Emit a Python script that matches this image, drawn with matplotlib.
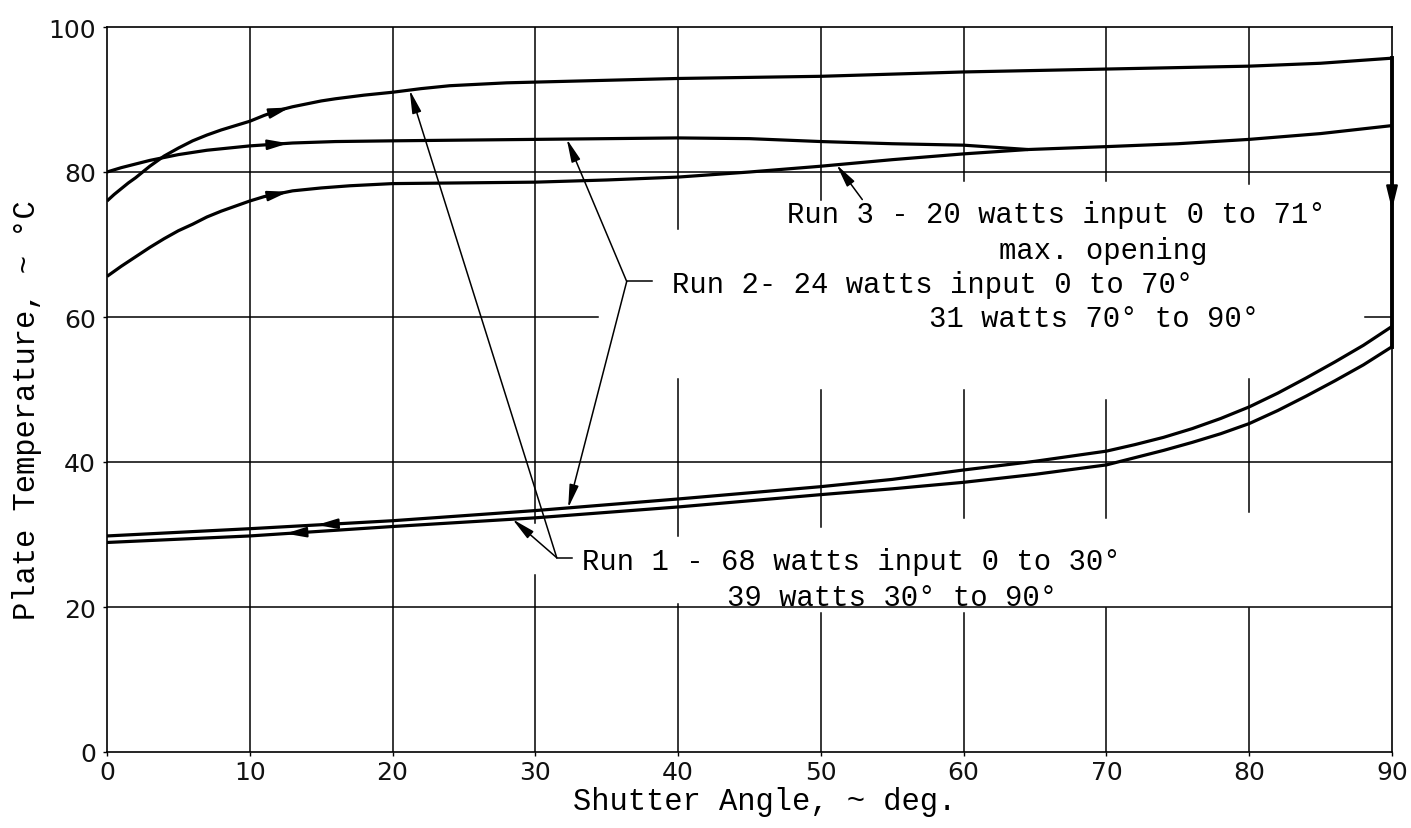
import numpy as np
import matplotlib
matplotlib.use("Agg")
import matplotlib.pyplot as plt

# ---------------- data ----------------
run1_heat_x = [0, 0.5, 1, 1.5, 2, 2.5, 3, 3.5, 4, 5, 6, 7, 8, 9, 10, 11, 12, 13, 14, 15, 16, 18, 20,
               22, 24, 26, 28, 30, 40, 50, 60, 70, 80, 85, 90]
run1_heat_y = [76.0, 76.9, 77.7, 78.5, 79.2, 80.0, 80.8, 81.5, 82.2, 83.3, 84.3, 85.1, 85.8, 86.4,
               87.0, 87.8, 88.5, 89.0, 89.4, 89.8, 90.1, 90.6, 91.0, 91.5, 91.9, 92.1, 92.3, 92.4,
               92.9, 93.2, 93.8, 94.2, 94.6, 95.0, 95.7]

run2_heat_x = [0, 1, 2, 3, 4, 5, 7, 10, 13, 16, 20, 30, 40, 45, 50, 55, 60, 64.5, 70, 75, 80, 85, 90]
run2_heat_y = [80.0, 80.6, 81.1, 81.6, 82.0, 82.4, 83.0, 83.6, 84.0, 84.2, 84.3, 84.5, 84.7, 84.6,
               84.2, 83.9, 83.7, 83.1, 83.5, 83.9, 84.5, 85.3, 86.4]

run3_heat_x = [0, 1, 2, 3, 4, 5, 6, 7, 8, 9, 10, 11, 12, 13, 15, 17, 20, 25, 30, 35, 40, 45, 50,
               55, 60, 64.5]
run3_heat_y = [65.6, 67.0, 68.3, 69.6, 70.8, 71.9, 72.8, 73.8, 74.6, 75.3, 76.0, 76.6, 77.0, 77.4,
               77.8, 78.1, 78.4, 78.5, 78.6, 78.9, 79.3, 80.0, 80.8, 81.7, 82.5, 83.1]

drop_x = [90, 90]
drop_y = [95.7, 55.9]

run2_cool_x = [90, 88, 86, 84, 82, 80, 78, 76, 74, 72, 70, 65, 60, 55, 50, 40, 30, 20, 10, 0]
run2_cool_y = [58.7, 56.1, 53.8, 51.6, 49.5, 47.6, 46.0, 44.6, 43.4, 42.4, 41.5, 40.1, 38.9, 37.6,
               36.6, 34.9, 33.3, 31.9, 30.8, 29.8]

run1_cool_x = [90, 88, 86, 84, 82, 80, 78, 76, 74, 72, 70, 65, 60, 55, 50, 40, 30, 20, 10, 0]
run1_cool_y = [55.9, 53.4, 51.2, 49.1, 47.1, 45.3, 43.9, 42.7, 41.6, 40.6, 39.6, 38.3, 37.2, 36.3,
               35.5, 33.8, 32.3, 31.1, 29.8, 28.9]

x_ticks = [0, 10, 20, 30, 40, 50, 60, 70, 80, 90]
y_ticks = [0, 20, 40, 60, 80, 100]

label_run3 = ["Run 3 - 20 watts input 0 to 71°", "max. opening"]
label_run2 = ["Run 2- 24 watts input 0 to 70°", "31 watts 70° to 90°"]
label_run1 = ["Run 1 - 68 watts input 0 to 30°", "39 watts 30° to 90°"]
x_label = "Shutter Angle, ~ deg."
y_label = "Plate Temperature, ~ °C"

# ---------------- layout ----------------
W, H = 1411, 829
fig = plt.figure(figsize=(W / 100, H / 100), dpi=100)
ax = fig.add_axes([107 / W, 1 - 753 / H, (1392 - 107) / W, (753 - 28) / H])
ax.set_xlim(0, 90)
ax.set_ylim(0, 100)

mono = "Liberation Mono"
INK = "black"

# grid segments (gaps where the original annotations sit)
vgrid = {10: [(0, 100)], 20: [(0, 100)],
         30: [(0, 24.4), (31.6, 100)],
         40: [(0, 20.4), (29.8, 51.4), (72.1, 100)],
         50: [(0, 19.2), (31.1, 50.0), (76.2, 100)],
         60: [(0, 19.2), (32.3, 50.0), (78.7, 100)],
         70: [(0, 19.9), (32.3, 48.6), (78.7, 100)],
         80: [(0, 19.9), (33.1, 51.4), (78.3, 100)]}
hgrid = {20: [(0, 90)], 40: [(0, 90)], 60: [(0, 34.4), (88.1, 90)], 80: [(0, 90)]}
for xv, segs in vgrid.items():
    for a, b in segs:
        ax.plot([xv, xv], [a, b], color=INK, lw=1.1, zorder=1)
for yv, segs in hgrid.items():
    for a, b in segs:
        ax.plot([a, b], [yv, yv], color=INK, lw=1.1, zorder=1)

# curves
CW = 2.3
for xs, ys in [(run1_heat_x, run1_heat_y), (run2_heat_x, run2_heat_y), (run3_heat_x, run3_heat_y),
               (run2_cool_x, run2_cool_y), (run1_cool_x, run1_cool_y)]:
    ax.plot(xs, ys, color=INK, lw=CW, zorder=3, solid_capstyle="butt", solid_joinstyle="round")
ax.plot(drop_x, drop_y, color=INK, lw=2.8, zorder=3, clip_on=False)


def curve_y(xs, ys, x):
    order = np.argsort(xs)
    return float(np.interp(x, np.asarray(xs)[order], np.asarray(ys)[order]))


def flow_arrow(xs, ys, tip_x, direction):
    tail_x = tip_x - 1.2 * direction
    ax.annotate("", xy=(tip_x, curve_y(xs, ys, tip_x)),
                xytext=(tail_x, curve_y(xs, ys, tail_x)),
                arrowprops=dict(arrowstyle="-|>,head_length=0.9,head_width=0.22",
                                mutation_scale=14, color=INK, lw=1.5,
                                shrinkA=0, shrinkB=0), zorder=4)


flow_arrow(run1_heat_x, run1_heat_y, 12.8, +1)
flow_arrow(run2_heat_x, run2_heat_y, 12.7, +1)
flow_arrow(run3_heat_x, run3_heat_y, 12.7, +1)
flow_arrow(run2_cool_x, run2_cool_y, 14.7, -1)
flow_arrow(run1_cool_x, run1_cool_y, 12.5, -1)
# downward arrow on the drop line at 90 deg
ax.annotate("", xy=(90, 74.8), xytext=(90, 78.0),
            arrowprops=dict(arrowstyle="-|>,head_length=0.9,head_width=0.22",
                            mutation_scale=16, color=INK, lw=1.5, shrinkA=0, shrinkB=0),
            annotation_clip=False, zorder=4)


def pointer(start, tip_x, xs, ys):
    ax.annotate("", xy=(tip_x, curve_y(xs, ys, tip_x)), xytext=start,
                arrowprops=dict(arrowstyle="-|>,head_length=1.0,head_width=0.2",
                                mutation_scale=14, color=INK, lw=1.1,
                                shrinkA=0, shrinkB=0), zorder=4)


# Run 2 brace
v2 = (36.4, 64.9)
pointer(v2, 32.2, run2_heat_x, run2_heat_y)
pointer(v2, 32.3, run2_cool_x, run2_cool_y)
ax.plot([v2[0], 38.2], [v2[1], v2[1]], color=INK, lw=1.1, zorder=4)
# Run 1 brace
v1 = (31.5, 26.8)
pointer(v1, 28.4, run1_cool_x, run1_cool_y)
pointer(v1, 21.2, run1_heat_x, run1_heat_y)
ax.plot([v1[0], 32.6], [v1[1], v1[1]], color=INK, lw=1.1, zorder=4)
# Run 3 pointer
pointer((52.9, 76.2), 51.1, run3_heat_x, run3_heat_y)

# annotation texts
TS = 20.8
ax.text(47.6, 73.1, label_run3[0], family=mono, fontsize=TS, va="baseline", ha="left")
ax.text(62.5, 68.1, label_run3[1], family=mono, fontsize=TS, va="baseline", ha="left")
ax.text(39.6, 63.5, label_run2[0], family=mono, fontsize=TS, va="baseline", ha="left")
ax.text(57.6, 58.8, label_run2[1], family=mono, fontsize=TS, va="baseline", ha="left")
ax.text(33.3, 25.3, label_run1[0], family=mono, fontsize=TS, va="baseline", ha="left")
ax.text(43.4, 20.3, label_run1[1], family=mono, fontsize=TS, va="baseline", ha="left")

# axes styling
for s in ax.spines.values():
    s.set_linewidth(1.2)
    s.set_color(INK)
ax.set_xticks(x_ticks)
ax.set_yticks(y_ticks)
ax.set_xticklabels([str(v) for v in x_ticks])
ax.set_yticklabels([str(v) for v in y_ticks])
ax.tick_params(axis="both", length=3, width=1, color=INK, labelsize=18, labelcolor="#111111")
ax.tick_params(axis="x", pad=3)
ax.tick_params(axis="y", pad=5)

fig.text(765 / W, 1 - 810 / H, x_label, family=mono, fontsize=22, ha="center", va="baseline")
fig.text(27 / W, 1 - 410 / H, y_label, family=mono, fontsize=22, ha="center", va="center",
         rotation=90)

fig.savefig("out.png", dpi=100, facecolor="white")
